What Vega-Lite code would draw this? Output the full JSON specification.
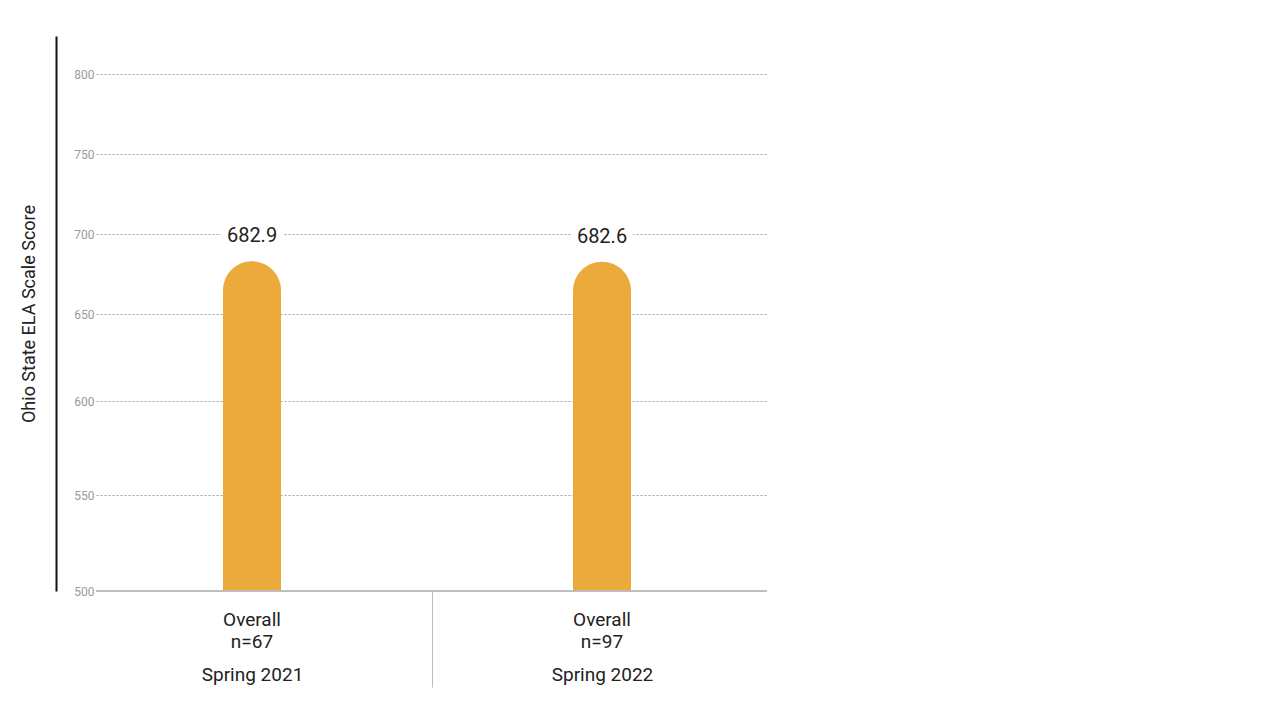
{
  "$schema": "https://vega.github.io/schema/vega-lite/v6.json",
  "autosize": "none",
  "width": 671,
  "height": 555,
  "padding": {"left": 96, "top": 36, "right": 513, "bottom": 127},
  "background": "white",
  "config": {
    "view": {"stroke": null},
    "font": "Roboto, sans-serif"
  },
  "data": {
    "values": [
      {"period": "Spring 2021", "caption": ["Overall", "n=67"], "score": 682.9},
      {"period": "Spring 2022", "caption": ["Overall", "n=97"], "score": 682.6}
    ]
  },
  "layer": [
    {
      "mark": {"type": "bar", "size": 58, "color": "#ECAA3C", "cornerRadiusTopLeft": 29, "cornerRadiusTopRight": 29},
      "encoding": {
        "x": {
          "field": "period", "type": "nominal", "sort": null,
          "scale": {"type": "point", "padding": 0.4586, "align": 0.486},
          "axis": {
            "orient": "bottom", "title": null, "domain": false, "grid": false,
            "tickOffset": 180, "labelOffset": -180,
            "tickSize": 96, "tickColor": "#bdbdbd", "tickWidth": 1,
            "tickOpacity": {"condition": {"test": "datum.value == 'Spring 2021'", "value": 1}, "value": 0},
            "labelAngle": 0, "labelPadding": -22, "labelFontSize": 19, "labelColor": "#222",
            "labelBaseline": "top"
          }
        },
        "y": {
          "field": "score", "type": "quantitative",
          "scale": {
            "domain": [500, 550, 600, 650, 700, 750, 800, 824],
            "range": [555, 459, 365, 278, 198, 118, 38, 0],
            "nice": false, "zero": false
          },
          "axis": {
            "orient": "left", "title": null, "values": [500, 550, 600, 650, 700, 750, 800],
            "domain": false, "ticks": false, "grid": true,
            "gridColor": "#a0a0a0", "gridDash": [2, 2], "gridWidth": 1,
            "labelPadding": 2, "labelColor": "#9a9a9a", "labelFontSize": 12
          }
        },
        "y2": {"datum": 500}
      }
    },
    {
      "mark": {"type": "rule", "color": "#bdbdbd", "strokeWidth": 1.5},
      "encoding": {
        "y": {
          "datum": 500, "type": "quantitative",
          "axis": {
            "orient": "left", "offset": 40, "domain": true, "domainColor": "#111", "domainWidth": 2,
            "labels": false, "ticks": false, "grid": false,
            "title": "Ohio State ELA Scale Score", "titleFontSize": 18, "titleFontWeight": "normal",
            "titleColor": "#222", "titlePadding": 18
          }
        }
      }
    },
    {
      "mark": {"type": "tick", "color": "white", "thickness": 6, "size": 62, "yOffset": -27, "opacity": 1},
      "encoding": {
        "x": {"field": "period", "type": "nominal", "sort": null},
        "y": {"field": "score", "type": "quantitative", "axis": null}
      }
    },
    {
      "mark": {"type": "text", "fontSize": 20, "color": "#222", "baseline": "alphabetic", "dy": -19},
      "encoding": {
        "x": {"field": "period", "type": "nominal", "sort": null},
        "y": {"field": "score", "type": "quantitative", "axis": null},
        "text": {"field": "score", "type": "quantitative", "format": ".1f"}
      }
    },
    {
      "mark": {"type": "text", "fontSize": 19, "color": "#222", "baseline": "alphabetic", "dy": 35, "lineHeight": 22},
      "encoding": {
        "x": {"field": "period", "type": "nominal", "sort": null},
        "y": {"datum": 500, "type": "quantitative", "axis": null},
        "text": {"field": "caption"}
      }
    }
  ],
  "resolve": {"axis": {"y": "independent"}}
}
